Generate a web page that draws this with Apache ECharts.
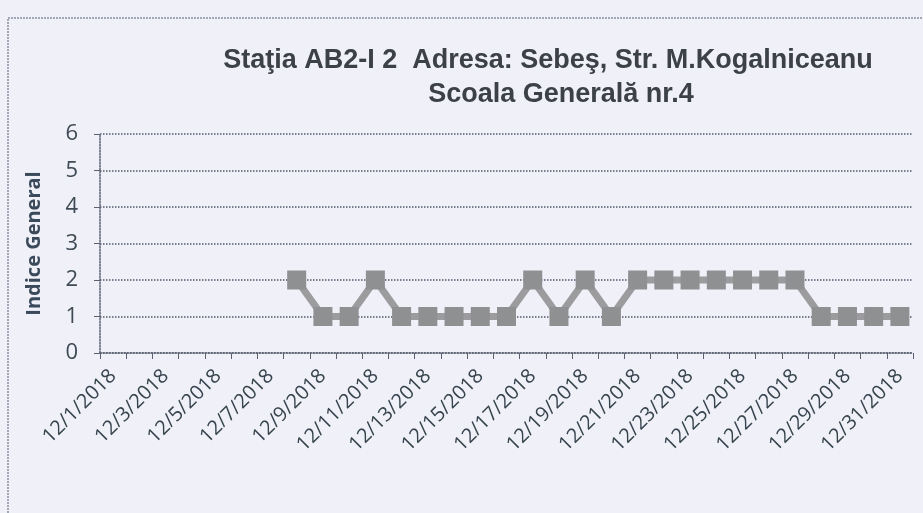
<!DOCTYPE html>
<html>
<head>
<meta charset="utf-8">
<style>
  html, body { margin: 0; padding: 0; background: #eff0f8; }
  #chart { width: 923px; height: 513px; }
</style>
<script src="https://cdn.jsdelivr.net/npm/echarts@6/dist/echarts.min.js"></script>
</head>
<body>
<div id="chart"></div>
<script>
// zilele lunii decembrie 2018
const days = [];
for (let d = 1; d <= 31; d++) days.push("12/" + d + "/2018");

// indice general (fara date 12/1 - 12/7)
const indice = [
  null, null, null, null, null, null, null,
  2, 1, 1, 2, 1, 1, 1, 1, 1,
  2, 1, 2, 1,
  2, 2, 2, 2, 2, 2, 2,
  1, 1, 1, 1
];

const yTicks = [0, 1, 2, 3, 4, 5, 6];

const titleStyle = {
  fontFamily: "Liberation Sans",
  fontWeight: "bold",
  fontSize: 27,
  color: "#3c4047"
};

const chart = echarts.init(document.getElementById("chart"));
chart.setOption({
  backgroundColor: "#eff0f8",
  animation: false,
  title: [
    { text: "Staţia AB2-I 2  Adresa: Sebeş, Str. M.Kogalniceanu", left: 543, top: 42, textAlign: "center", textStyle: titleStyle },
    { text: "Scoala Generală nr.4", left: 556, top: 76, textAlign: "center", textStyle: titleStyle }
  ],
  graphic: [
    {
      type: "polyline",
      shape: { points: [[8, 513], [8, 18], [923, 18]] },
      style: { fill: null, stroke: "#8a90a0", lineWidth: 1.5, lineDash: [2, 1] }
    }
  ],
  grid: { left: 100, right: 10, top: 134, bottom: 160 },
  xAxis: {
    type: "category",
    data: days,
    boundaryGap: true,
    axisLine: { lineStyle: { color: "#5a6070", width: 1.5, type: "dotted" } },
    axisTick: { show: true, interval: 0, length: 6, lineStyle: { color: "#5a6070" } },
    axisLabel: {
      interval: 1,
      rotate: 45,
      margin: 20,
      fontFamily: "Open Sans",
      fontSize: 20,
      color: "#37444e"
    }
  },
  yAxis: {
    type: "value",
    min: yTicks[0],
    max: yTicks[yTicks.length - 1],
    interval: 1,
    name: "Indice General",
    nameLocation: "middle",
    nameGap: 56,
    nameTextStyle: {
      fontFamily: "Open Sans",
      fontWeight: "bold",
      fontSize: 20,
      color: "#3b4a5a"
    },
    axisLine: { show: true, lineStyle: { color: "#5a6070", type: "dotted", width: 1.5 } },
    axisTick: { show: true, length: 6, lineStyle: { color: "#5a6070" } },
    axisLabel: {
      margin: 22,
      fontFamily: "Open Sans",
      fontSize: 22,
      color: "#3f4a55"
    },
    splitLine: { lineStyle: { color: "#50586a", width: 1.5, type: "dotted" } }
  },
  series: [
    {
      type: "line",
      data: indice,
      connectNulls: false,
      showAllSymbol: true,
      symbol: "rect",
      symbolSize: 19,
      lineStyle: { color: "#9c9c9e", width: 7 },
      itemStyle: { color: "#8f9092", borderWidth: 0 }
    }
  ]
});
</script>
</body>
</html>
